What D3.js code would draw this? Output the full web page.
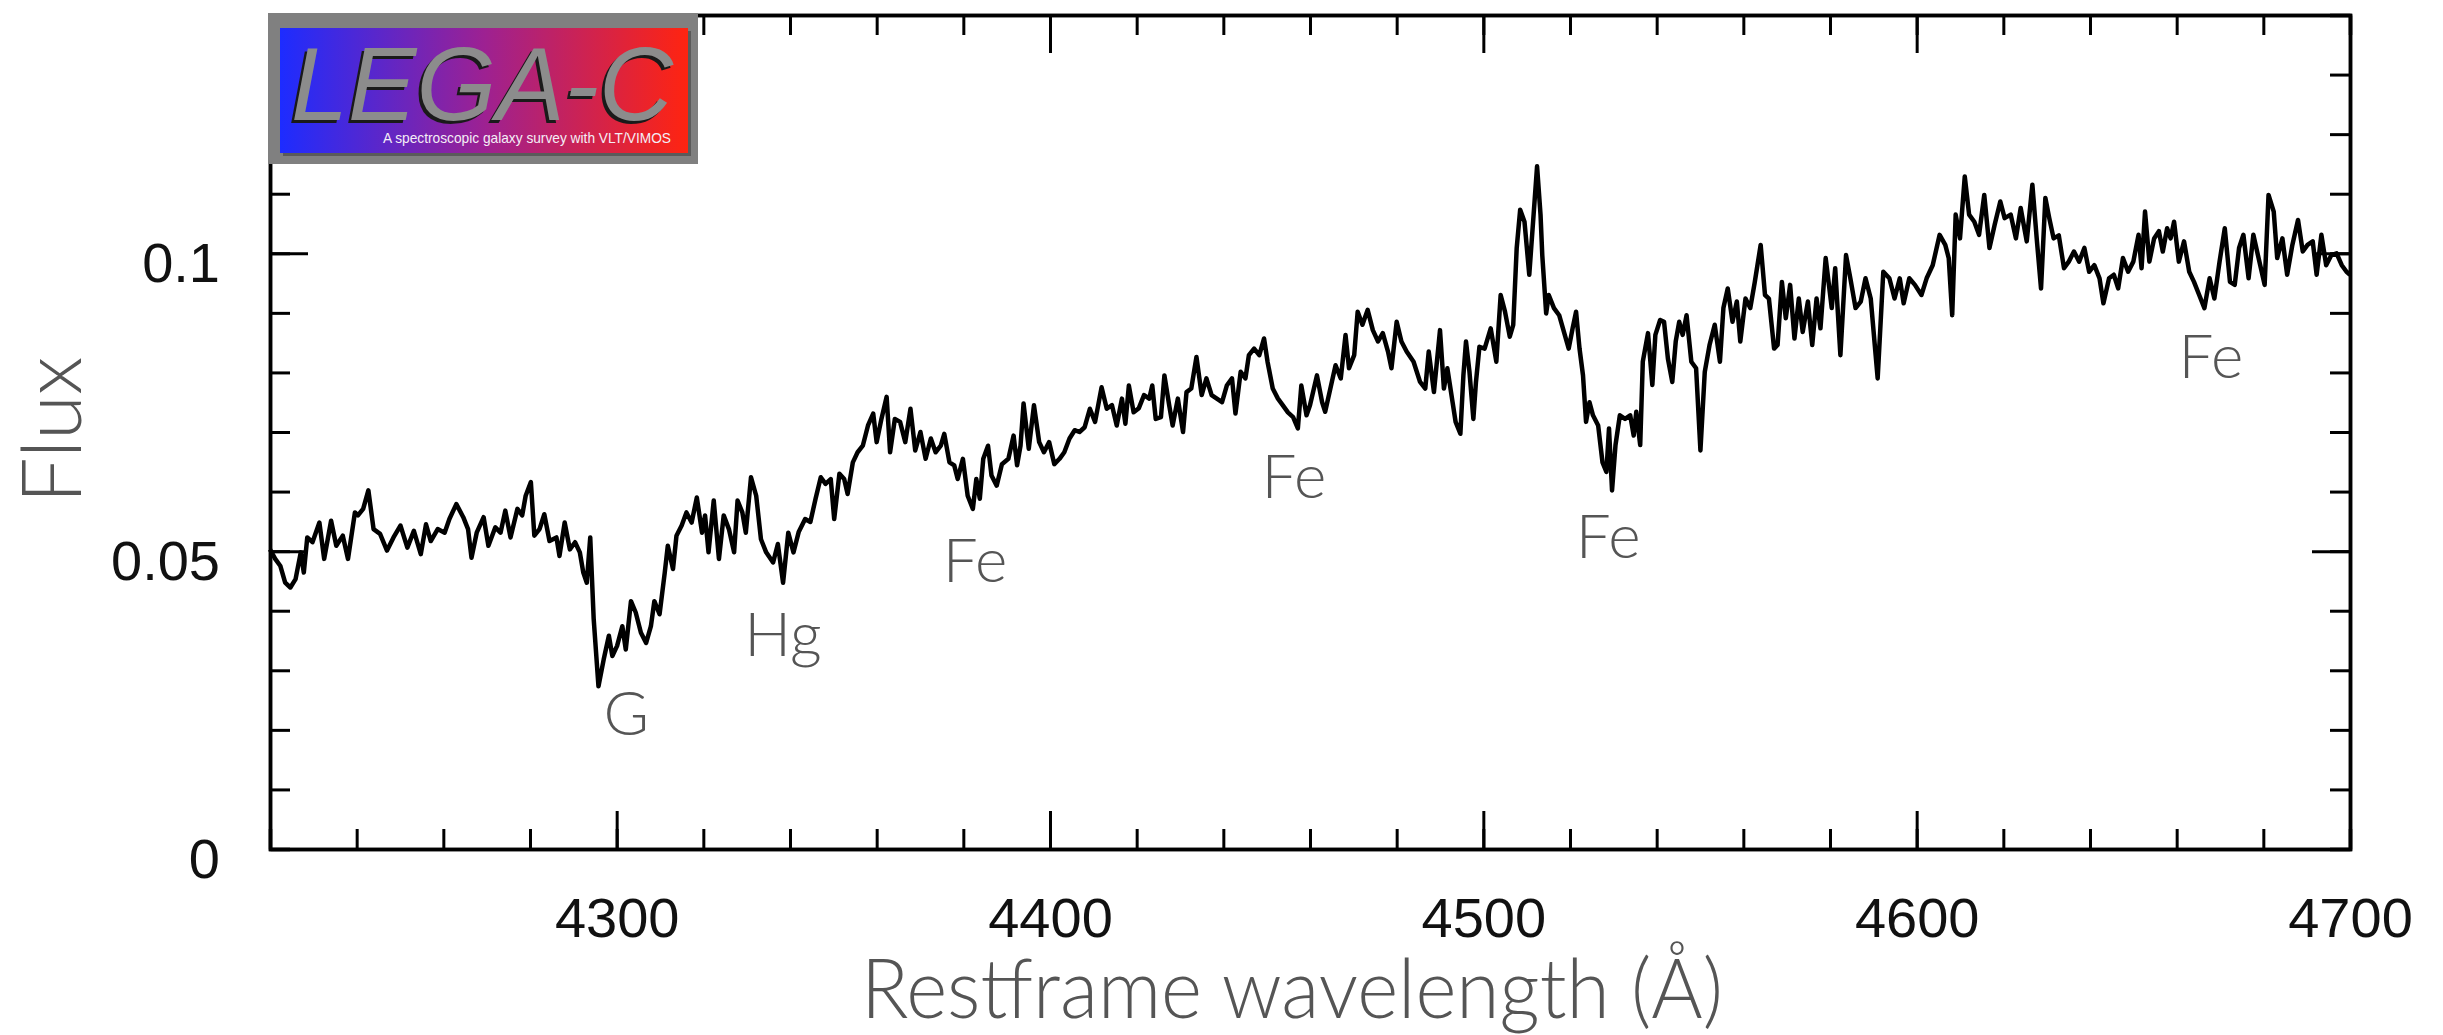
<!DOCTYPE html>
<html>
<head>
<meta charset="utf-8">
<script src="https://cdn.jsdelivr.net/npm/d3@7"></script>
<style>
  body { margin: 0; background: #fff; }
  .axis path, .axis line { stroke: #000; }
</style>
</head>
<body>
<div class="spectrum"></div>
<script>
// Spectrum: restframe wavelength (A) and flux
var wavelength = [
  4220.0, 4221.2, 4222.4, 4223.5, 4224.7, 4225.9, 4227.1, 4227.8, 4228.6, 4229.8,
  4231.4, 4232.5, 4234.1, 4235.3, 4236.8, 4238.0, 4239.6, 4240.3, 4241.5, 4242.7,
  4243.9, 4245.4, 4247.0, 4248.5, 4250.1, 4251.7, 4253.2, 4254.8, 4256.0, 4257.1,
  4258.7, 4260.3, 4261.4, 4263.0, 4264.6, 4265.7, 4266.5, 4267.7, 4269.3, 4270.4,
  4272.0, 4273.2, 4274.3, 4275.5, 4277.1, 4278.2, 4279.0, 4280.2, 4281.0, 4282.2,
  4283.3, 4284.5, 4286.1, 4286.8, 4288.0, 4289.2, 4290.4, 4291.5, 4292.3, 4293.1,
  4293.9, 4294.7, 4295.8, 4297.0, 4298.2, 4299.0, 4300.1, 4301.3, 4302.1, 4303.3,
  4304.4, 4305.6, 4306.8, 4307.9, 4308.7, 4309.9, 4311.1, 4311.8, 4313.0, 4313.8,
  4315.0, 4316.1, 4317.3, 4318.5, 4319.7, 4320.4, 4321.2, 4322.4, 4323.6, 4324.7,
  4325.9, 4327.1, 4327.9, 4329.0, 4329.8, 4331.0, 4332.2, 4333.3, 4334.5, 4336.1,
  4337.2, 4338.4, 4339.6, 4340.8, 4342.0, 4343.5, 4344.7, 4345.9, 4347.1, 4348.2,
  4349.4, 4350.2, 4351.4, 4352.5, 4353.3, 4354.5, 4355.6, 4356.8, 4358.0, 4359.2,
  4360.0, 4361.1, 4362.3, 4363.1, 4364.2, 4365.4, 4366.6, 4367.8, 4368.9, 4370.1,
  4371.3, 4372.5, 4373.6, 4374.8, 4375.6, 4376.8, 4377.9, 4378.7, 4379.9, 4381.0,
  4382.2, 4383.0, 4383.8, 4384.6, 4385.7, 4386.5, 4387.7, 4388.9, 4390.4, 4391.6,
  4392.4, 4393.2, 4393.9, 4395.1, 4396.3, 4397.5, 4398.6, 4399.8, 4401.0, 4402.2,
  4403.3, 4404.5, 4405.7, 4406.8, 4408.0, 4409.2, 4410.4, 4411.9, 4413.1, 4414.3,
  4415.4, 4416.6, 4417.4, 4418.2, 4419.3, 4420.5, 4421.7, 4422.9, 4423.6, 4424.4,
  4425.6, 4426.4, 4427.5, 4428.3, 4429.5, 4430.7, 4431.5, 4432.6, 4433.8, 4435.0,
  4436.1, 4437.3, 4438.5, 4439.7, 4440.8, 4442.0, 4442.8, 4444.0, 4445.1, 4445.9,
  4447.1, 4448.3, 4449.4, 4450.2, 4451.4, 4452.6, 4453.7, 4454.9, 4456.1, 4457.2,
  4458.0, 4459.2, 4460.0, 4461.6, 4462.8, 4463.5, 4464.7, 4465.9, 4467.1, 4468.2,
  4469.0, 4470.2, 4471.0, 4472.1, 4473.3, 4474.5, 4475.7, 4476.8, 4478.0, 4478.8,
  4480.0, 4481.1, 4482.3, 4483.9, 4485.4, 4486.6, 4487.4, 4488.6, 4490.0, 4490.9,
  4491.7, 4492.9, 4493.6, 4494.7, 4495.4, 4496.0, 4496.8, 4497.7, 4498.3, 4499.1,
  4500.3, 4501.7, 4503.0, 4504.0, 4505.0, 4506.1, 4506.9, 4507.7, 4508.5, 4509.5,
  4510.6, 4511.6, 4512.4, 4513.2, 4513.6, 4514.5, 4515.1, 4516.3, 4517.5, 4518.6,
  4519.7, 4520.6, 4521.4, 4522.2, 4523.0, 4523.7, 4524.5, 4525.3, 4526.5, 4527.5,
  4528.4, 4529.0, 4529.7, 4530.5, 4531.5, 4532.7, 4533.9, 4534.7, 4535.3, 4536.2,
  4536.8, 4538.0, 4539.0, 4539.7, 4540.8, 4541.7, 4542.6, 4543.6, 4544.4, 4545.2,
  4546.0, 4546.9, 4548.0, 4549.1, 4550.1, 4551.1, 4552.2, 4553.4, 4554.6, 4555.4,
  4556.4, 4557.5, 4558.5, 4559.3, 4560.5, 4561.6, 4562.6, 4564.0, 4565.0, 4565.9,
  4567.1, 4567.9, 4568.9, 4569.8, 4570.8, 4571.8, 4572.8, 4573.7, 4574.9, 4575.9,
  4576.9, 4577.8, 4579.0, 4580.4, 4581.2, 4582.4, 4583.7, 4584.7, 4585.9, 4587.1,
  4588.2, 4589.4, 4591.0, 4592.3, 4593.7, 4594.9, 4596.1, 4597.0, 4598.3, 4599.6,
  4601.1, 4602.3, 4603.7, 4605.3, 4606.6, 4607.4, 4608.2, 4609.0, 4610.0, 4611.1,
  4612.1, 4613.3, 4614.4, 4615.6, 4616.8, 4618.0, 4619.3, 4620.3, 4621.7, 4622.9,
  4624.0, 4625.4, 4626.7, 4627.7, 4628.7, 4629.7, 4630.6, 4631.6, 4632.8, 4634.0,
  4635.1, 4636.3, 4637.5, 4638.7, 4639.8, 4641.0, 4642.2, 4643.1, 4644.4, 4645.5,
  4646.5, 4647.6, 4648.8, 4650.0, 4651.2, 4651.9, 4652.7, 4653.7, 4654.8, 4655.9,
  4656.8, 4657.8, 4658.6, 4659.4, 4660.5, 4661.7, 4662.9, 4664.0, 4665.2, 4666.4,
  4667.6, 4668.7, 4669.9, 4671.1, 4672.3, 4673.4, 4674.4, 4675.4, 4676.6, 4677.7,
  4678.9, 4680.3, 4681.2, 4682.4, 4683.2, 4684.4, 4685.5, 4686.7, 4688.0, 4689.1,
  4690.2, 4691.4, 4692.3, 4693.4, 4694.5, 4695.7, 4696.9, 4698.1, 4699.2, 4700.0
];
var flux = [
  0.0503, 0.0487, 0.0475, 0.0447, 0.0439, 0.0453, 0.0498, 0.0464, 0.0523, 0.0515,
  0.0548, 0.0487, 0.0551, 0.0509, 0.0526, 0.0487, 0.0565, 0.0560, 0.0571, 0.0602,
  0.0537, 0.0529, 0.0501, 0.0523, 0.0543, 0.0506, 0.0534, 0.0495, 0.0545, 0.0517,
  0.0537, 0.0531, 0.0554, 0.0579, 0.0557, 0.0537, 0.0489, 0.0531, 0.0557, 0.0509,
  0.0540, 0.0531, 0.0568, 0.0523, 0.0571, 0.0560, 0.0593, 0.0616, 0.0526, 0.0537,
  0.0562, 0.0517, 0.0523, 0.0492, 0.0548, 0.0503, 0.0515, 0.0498, 0.0464, 0.0447,
  0.0523, 0.0386, 0.0273, 0.0318, 0.0358, 0.0324, 0.0341, 0.0374, 0.0335, 0.0416,
  0.0397, 0.0363, 0.0346, 0.0374, 0.0416, 0.0394, 0.0464, 0.0509, 0.0470, 0.0526,
  0.0543, 0.0565, 0.0548, 0.0590, 0.0531, 0.0560, 0.0498, 0.0585, 0.0487, 0.0560,
  0.0537, 0.0498, 0.0585, 0.0565, 0.0531, 0.0624, 0.0593, 0.0520, 0.0498, 0.0481,
  0.0512, 0.0447, 0.0531, 0.0498, 0.0532, 0.0554, 0.0549, 0.0588, 0.0624, 0.0613,
  0.0621, 0.0554, 0.0630, 0.0621, 0.0596, 0.0649, 0.0666, 0.0677, 0.0711, 0.0731,
  0.0683, 0.0722, 0.0759, 0.0666, 0.0722, 0.0717, 0.0683, 0.0739, 0.0669, 0.0700,
  0.0655, 0.0689, 0.0666, 0.0677, 0.0697, 0.0649, 0.0644, 0.0621, 0.0655, 0.0593,
  0.0571, 0.0621, 0.0588, 0.0655, 0.0677, 0.0627, 0.0610, 0.0646, 0.0655, 0.0694,
  0.0644, 0.0677, 0.0748, 0.0672, 0.0745, 0.0683, 0.0666, 0.0683, 0.0646, 0.0655,
  0.0666, 0.0689, 0.0703, 0.0700, 0.0708, 0.0739, 0.0717, 0.0775, 0.0739, 0.0745,
  0.0711, 0.0756, 0.0714, 0.0778, 0.0733, 0.0740, 0.0762, 0.0756, 0.0778, 0.0722,
  0.0725, 0.0795, 0.0745, 0.0711, 0.0756, 0.0700, 0.0767, 0.0773, 0.0826, 0.0762,
  0.0790, 0.0762, 0.0756, 0.0750, 0.0778, 0.0790, 0.0731, 0.0801, 0.0790, 0.0829,
  0.0840, 0.0829, 0.0857, 0.0818, 0.0773, 0.0756, 0.0745, 0.0733, 0.0725, 0.0706,
  0.0778, 0.0728, 0.0745, 0.0795, 0.0750, 0.0734, 0.0773, 0.0812, 0.0790, 0.0863,
  0.0807, 0.0829, 0.0902, 0.0880, 0.0905, 0.0871, 0.0852, 0.0866, 0.0835, 0.0807,
  0.0885, 0.0852, 0.0835, 0.0818, 0.0784, 0.0773, 0.0835, 0.0767, 0.0871, 0.0773,
  0.0807, 0.0750, 0.0717, 0.0697, 0.0795, 0.0852, 0.0801, 0.0722, 0.0784, 0.0843,
  0.0840, 0.0874, 0.0818, 0.0930, 0.0902, 0.0860, 0.0880, 0.1009, 0.1073, 0.1053,
  0.0964, 0.1065, 0.1146, 0.1065, 0.0997, 0.0899, 0.0930, 0.0908, 0.0896, 0.0868,
  0.0840, 0.0874, 0.0902, 0.0840, 0.0795, 0.0717, 0.0750, 0.0728, 0.0711, 0.0649,
  0.0633, 0.0706, 0.0602, 0.0678, 0.0728, 0.0722, 0.0728, 0.0694, 0.0734, 0.0678,
  0.0818, 0.0866, 0.0779, 0.0863, 0.0888, 0.0885, 0.0823, 0.0784, 0.0852, 0.0885,
  0.0863, 0.0896, 0.0818, 0.0807, 0.0669, 0.0801, 0.0846, 0.0880, 0.0818, 0.0908,
  0.0941, 0.0885, 0.0919, 0.0852, 0.0924, 0.0908, 0.0950, 0.1014, 0.0930, 0.0924,
  0.0840, 0.0846, 0.0952, 0.0891, 0.0947, 0.0857, 0.0924, 0.0868, 0.0919, 0.0846,
  0.0924, 0.0874, 0.0992, 0.0908, 0.0975, 0.0829, 0.0997, 0.0958, 0.0908, 0.0919,
  0.0958, 0.0924, 0.0790, 0.0969, 0.0958, 0.0924, 0.0958, 0.0916, 0.0958, 0.0947,
  0.0930, 0.0958, 0.0980, 0.1031, 0.1014, 0.0992, 0.0896, 0.1065, 0.1025, 0.1129,
  0.1065, 0.1053, 0.1031, 0.1098, 0.1009, 0.1048, 0.1087, 0.1059, 0.1065, 0.1025,
  0.1076, 0.1020, 0.1115, 0.1025, 0.0941, 0.1093, 0.1059, 0.1025, 0.1030, 0.0975,
  0.0986, 0.1003, 0.0986, 0.1009, 0.0969, 0.0980, 0.0958, 0.0916, 0.0958, 0.0964,
  0.0941, 0.0992, 0.0969, 0.0986, 0.1031, 0.0975, 0.1070, 0.0986, 0.1025, 0.1037,
  0.1003, 0.1042, 0.1025, 0.1053, 0.0986, 0.1020, 0.0969, 0.0952, 0.0930, 0.0908,
  0.0958, 0.0924, 0.0986, 0.1042, 0.0952, 0.0947, 0.1009, 0.1031, 0.0958, 0.1031,
  0.0992, 0.0947, 0.1098, 0.1070, 0.0992, 0.1025, 0.0964, 0.1014, 0.1056, 0.1003,
  0.1014, 0.1020, 0.0964, 0.1031, 0.0980, 0.0997, 0.1000, 0.0980, 0.0969, 0.0964
];
// Axis ticks and labels
var xMajorTicks = [4300, 4400, 4500, 4600, 4700];
var yMajorTicks = [0, 0.05, 0.1];
var yTickLabels = ["0", "0.05", "0.1"];
// Absorption line markers (text, wavelength, flux at baseline)
var lineNames = ["G", "Hg", "Fe", "Fe", "Fe", "Fe"];
var lineWave = [4302.2, 4338.4, 4382.7, 4456.3, 4528.8, 4667.9];
var lineFlux = [0.0191, 0.0324, 0.0448, 0.0589, 0.0489, 0.0791];

function init() {
  var w = 2443;
  var h = 1035;
  var left = 270, right = 2350, top = 15, bottom = 849;
  var major = 38, minor = 20;

  var svg = d3.select(".spectrum")
    .append("svg")
    .attr("width", w)
    .attr("height", h);

  var xScale = d3.scaleLinear()
    .domain([4220, 4700])
    .range([left, right]);
  var yScale = d3.scaleLinear()
    .domain([0, 0.14])
    .range([bottom, top]);

  var xMinor = d3.range(4220, 4701, 20);
  var yMinor = d3.range(0, 0.1401, 0.01);

  // Minor ticks on all four sides (pointing inward)
  svg.append("g").attr("class", "axis")
    .attr("transform", "translate(0," + bottom + ")")
    .call(d3.axisBottom(xScale).tickValues(xMinor).tickSize(-minor).tickFormat(""));
  svg.append("g").attr("class", "axis")
    .attr("transform", "translate(0," + top + ")")
    .call(d3.axisTop(xScale).tickValues(xMinor).tickSize(-minor).tickFormat(""));
  svg.append("g").attr("class", "axis")
    .attr("transform", "translate(" + left + ",0)")
    .call(d3.axisLeft(yScale).tickValues(yMinor).tickSize(-minor).tickFormat(""));
  svg.append("g").attr("class", "axis")
    .attr("transform", "translate(" + right + ",0)")
    .call(d3.axisRight(yScale).tickValues(yMinor).tickSize(-minor).tickFormat(""));

  // Major ticks with labels on bottom and left
  svg.append("g").attr("class", "axis")
    .attr("transform", "translate(0," + bottom + ")")
    .call(d3.axisBottom(xScale).tickValues(xMajorTicks).tickSizeInner(-major)
      .tickSizeOuter(0).tickPadding(48).tickFormat(d3.format("d")));
  svg.append("g").attr("class", "axis")
    .attr("transform", "translate(0," + top + ")")
    .call(d3.axisTop(xScale).tickValues(xMajorTicks).tickSizeInner(-major)
      .tickSizeOuter(0).tickFormat(""));
  var yAxis = svg.append("g").attr("class", "axis")
    .attr("transform", "translate(" + left + ",0)")
    .call(d3.axisLeft(yScale).tickValues(yMajorTicks).tickSizeInner(-major)
      .tickSizeOuter(0).tickPadding(50)
      .tickFormat(function (d, i) { return yTickLabels[i]; }));
  svg.append("g").attr("class", "axis")
    .attr("transform", "translate(" + right + ",0)")
    .call(d3.axisRight(yScale).tickValues(yMajorTicks).tickSizeInner(-major)
      .tickSizeOuter(0).tickFormat(""));

  svg.selectAll(".axis path").attr("stroke-width", 3.5);
  svg.selectAll(".axis line").attr("stroke-width", 3);
  svg.selectAll(".axis text")
    .attr("fill", "#111")
    .style("font-family", "'Liberation Sans', Arial, sans-serif")
    .style("font-size", "56px");
  yAxis.selectAll("text").attr("dy", "0.5em");

  // Spectrum line
  var idx = d3.range(wavelength.length);
  svg.append("path")
    .datum(idx)
    .attr("fill", "none")
    .attr("stroke", "#000")
    .attr("stroke-width", 4.5)
    .attr("stroke-linejoin", "round")
    .attr("d", d3.line()
      .x(function (i) { return xScale(wavelength[i]); })
      .y(function (i) { return yScale(flux[i]); }));

  // Line identifications
  var labelFont = "Lato, 'Open Sans', 'DejaVu Sans', sans-serif";
  svg.selectAll(".lineName")
    .data(lineNames)
    .enter()
    .append("text")
    .attr("class", "lineName")
    .attr("x", function (d, i) { return xScale(lineWave[i]); })
    .attr("y", function (d, i) { return yScale(lineFlux[i]); })
    .attr("text-anchor", "middle")
    .attr("fill", "#555")
    .style("font-family", labelFont)
    .style("font-weight", 300)
    .style("font-size", "62px")
    .text(function (d) { return d; });

  // Axis titles
  svg.append("text")
    .attr("x", 1292)
    .attr("y", 1018)
    .attr("text-anchor", "middle")
    .attr("fill", "#555")
    .attr("textLength", 862)
    .attr("lengthAdjust", "spacingAndGlyphs")
    .style("font-family", labelFont)
    .style("font-weight", 300)
    .style("font-size", "82px")
    .text("Restframe wavelength (\u00c5)");
  svg.append("text")
    .attr("transform", "rotate(-90)")
    .attr("x", -430)
    .attr("y", 81)
    .attr("text-anchor", "middle")
    .attr("fill", "#555")
    .style("font-family", labelFont)
    .style("font-weight", 300)
    .style("font-size", "82px")
    .text("Flux");

  // LEGA-C logo in the top-left corner
  var grad = svg.append("defs").append("linearGradient")
    .attr("id", "legac")
    .attr("x1", "0%").attr("x2", "100%");
  grad.append("stop").attr("offset", "0%").attr("stop-color", "#1d2cff");
  grad.append("stop").attr("offset", "50%").attr("stop-color", "#9d2192");
  grad.append("stop").attr("offset", "100%").attr("stop-color", "#ff2410");

  var logo = svg.append("g");
  logo.append("rect")
    .attr("x", 268).attr("y", 13).attr("width", 430).attr("height", 151)
    .attr("fill", "#808080");
  logo.append("rect")
    .attr("x", 283).attr("y", 31).attr("width", 408).attr("height", 125)
    .attr("fill", "#5a5a5a");
  logo.append("rect")
    .attr("x", 280).attr("y", 28).attr("width", 408).attr("height", 125)
    .attr("fill", "url(#legac)");
  logo.append("text")
    .attr("x", 288).attr("y", 123)
    .attr("fill", "#1a1a1a")
    .attr("textLength", 382)
    .attr("lengthAdjust", "spacingAndGlyphs")
    .style("font-family", "'Liberation Sans', Arial, sans-serif")
    .style("font-style", "italic")
    .style("font-size", "104px")
    .text("LEGA-C");
  logo.append("text")
    .attr("x", 291).attr("y", 120)
    .attr("fill", "#8c8c8c")
    .attr("textLength", 382)
    .attr("lengthAdjust", "spacingAndGlyphs")
    .style("font-family", "'Liberation Sans', Arial, sans-serif")
    .style("font-style", "italic")
    .style("font-size", "104px")
    .text("LEGA-C");
  logo.append("text")
    .attr("x", 383).attr("y", 143)
    .attr("fill", "#f4eef6")
    .attr("textLength", 288)
    .attr("lengthAdjust", "spacingAndGlyphs")
    .style("font-family", "'Liberation Sans Narrow', 'Liberation Sans', sans-serif")
    .style("font-size", "15px")
    .text("A spectroscopic galaxy survey with VLT/VIMOS");
}
// Draw once the page has loaded
window.onload = init;
</script>
</body>
</html>
